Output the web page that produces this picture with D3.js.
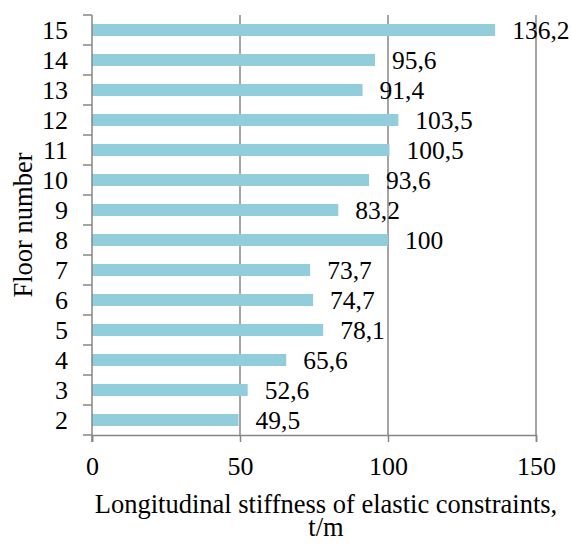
<!DOCTYPE html>
<html>
<head>
<meta charset="utf-8">
<script src="https://cdn.jsdelivr.net/npm/d3@7"></script>
</head>
<body style="margin:0">
<svg id="chart" width="571" height="546"></svg>
<script>
const floors = ["15", "14", "13", "12", "11", "10", "9", "8", "7", "6", "5", "4", "3", "2"];
const stiffness = [136.2, 95.6, 91.4, 103.5, 100.5, 93.6, 83.2, 100, 73.7, 74.7, 78.1, 65.6, 52.6, 49.5];
const valueLabels = ["136,2", "95,6", "91,4", "103,5", "100,5", "93,6", "83,2", "100", "73,7", "74,7", "78,1", "65,6", "52,6", "49,5"];
const xTicks = [0, 50, 100, 150];
const xTitleLines = ["Longitudinal stiffness of elastic constraints,", "t/m"];
const yTitle = "Floor number";

const svg = d3.select("#chart");
const margin = { left: 92, top: 15, right: 35, bottom: 111 };
const W = 571, H = 546;
const x0 = margin.left, x1 = W - margin.right;
const y0 = margin.top, y1 = H - margin.bottom;

const x = d3.scaleLinear().domain([0, 150]).range([x0, x1]);
const y = d3.scaleBand().domain(floors).range([y0, y1]).paddingInner(0.6).paddingOuter(0.3);
const yb = d3.scaleBand().domain(floors).range([y0, y1]);

const gridColor = "#868686";
const fsVal = 25.5, fsTick = 26, fsTitle = 26.5;
const ff = '"Liberation Serif"';

svg.append("g").selectAll("line").data(xTicks.filter(d => d > 0)).join("line")
  .attr("x1", d => x(d)).attr("x2", d => x(d))
  .attr("y1", y0).attr("y2", y1)
  .attr("stroke", gridColor).attr("stroke-width", 1.5);

svg.append("g").selectAll("rect").data(floors).join("rect")
  .attr("x", x(0))
  .attr("y", d => y(d))
  .attr("width", (d, i) => x(stiffness[i]) - x(0))
  .attr("height", y.bandwidth())
  .attr("fill", "#92CDDC");

svg.append("g").selectAll("text").data(floors).join("text")
  .attr("x", (d, i) => x(stiffness[i]) + 17)
  .attr("y", d => y(d) + y.bandwidth() / 2 + 9)
  .attr("font-size", fsVal)
  .style("font-family", ff)
  .text((d, i) => valueLabels[i]);

const xAxis = svg.append("g").attr("transform", `translate(0,${y1})`)
  .call(d3.axisBottom(x).tickValues(xTicks).tickSize(7).tickPadding(15).tickFormat(d3.format("d")));
xAxis.attr("font-size", fsTick).style("font-family", ff);
xAxis.select(".domain").attr("stroke", gridColor).attr("stroke-width", 1.5);
xAxis.selectAll(".tick line").attr("stroke", gridColor).attr("stroke-width", 1.5);
xAxis.selectAll(".tick text").attr("fill", "#000").attr("font-size", fsTick).style("font-family", ff);

const yAxisG = svg.append("g");
yAxisG.append("line").attr("x1", x0).attr("x2", x0).attr("y1", y0).attr("y2", y1 + 7)
  .attr("stroke", gridColor).attr("stroke-width", 1.5);
const boundaries = floors.map(d => yb(d)).concat([y1]);
yAxisG.selectAll("line.tk").data(boundaries).join("line").attr("class", "tk")
  .attr("x1", x0 - 9).attr("x2", x0)
  .attr("y1", d => d).attr("y2", d => d)
  .attr("stroke", gridColor).attr("stroke-width", 1.5);
yAxisG.selectAll("text").data(floors).join("text")
  .attr("x", x0 - 24)
  .attr("y", d => yb(d) + yb.bandwidth() / 2 + 9)
  .attr("text-anchor", "end")
  .attr("font-size", fsTick)
  .style("font-family", ff)
  .text(d => d);

svg.selectAll("text.xtitle").data(xTitleLines).join("text").attr("class", "xtitle")
  .attr("x", 326).attr("y", (d, i) => 513 + i * 23)
  .attr("text-anchor", "middle")
  .attr("font-size", fsTitle)
  .style("font-family", ff)
  .text(d => d);

svg.append("text")
  .attr("transform", "translate(32,225) rotate(-90)")
  .attr("text-anchor", "middle")
  .attr("font-size", fsTitle)
  .style("font-family", ff)
  .text(yTitle);
</script>
</body>
</html>
